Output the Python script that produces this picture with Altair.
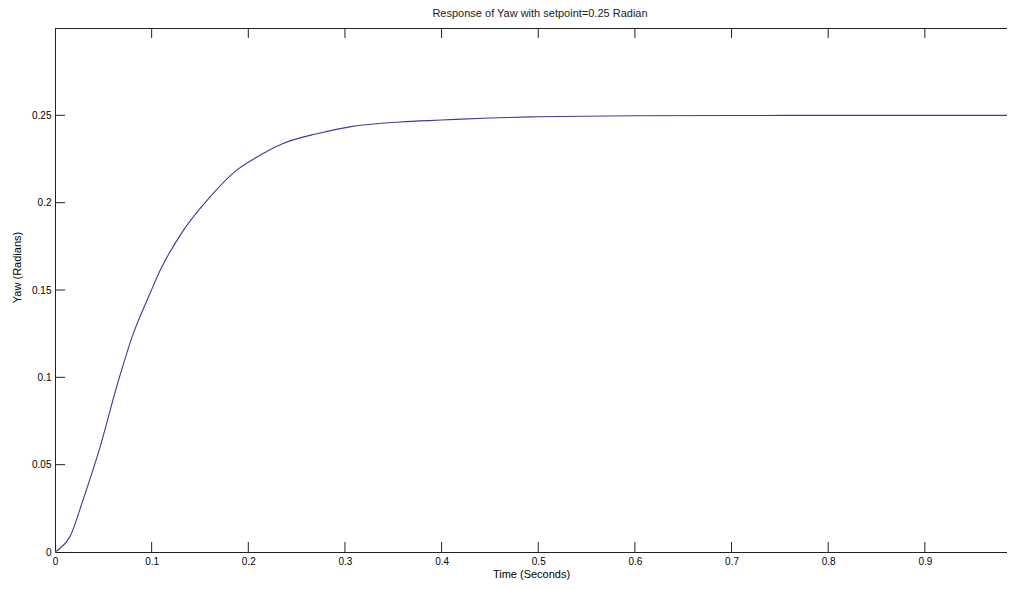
import altair as alt
import pandas as pd

# Data
time_s = [0, 0.005, 0.0155, 0.029, 0.0466, 0.0638, 0.081, 0.0983, 0.1086, 0.1327,
          0.16, 0.188, 0.2086, 0.236, 0.271, 0.305, 0.357, 0.4, 0.45, 0.5,
          0.6, 0.7, 0.8, 0.9, 1.0]
yaw_rad = [0, 0.002, 0.0088, 0.0298, 0.060, 0.0946, 0.125, 0.148, 0.161, 0.184,
           0.203, 0.2186, 0.226, 0.2339, 0.2395, 0.2434, 0.2462, 0.2473, 0.2485, 0.2492,
           0.2498, 0.2499, 0.25, 0.25, 0.25]
x_ticks = [0, 0.1, 0.2, 0.3, 0.4, 0.5, 0.6, 0.7, 0.8, 0.9]
y_ticks = [0, 0.05, 0.1, 0.15, 0.2, 0.25]

W, H = 952, 524
X_MAX = 0.985
FONT = "Liberation Sans"
INK = "#222222"

df = pd.DataFrame({"t": time_s, "y": yaw_rad})
xt = pd.DataFrame({"t": x_ticks[1:]})
yt = pd.DataFrame({"y": y_ticks[1:]})

xscale = alt.Scale(domain=[0, X_MAX], nice=False, zero=False)
yscale = alt.Scale(domain=[0, 0.3], nice=False)

line = alt.Chart(df).mark_line(color="#3b3b9c", strokeWidth=1.1, clip=True,
                               interpolate="monotone").encode(
    x=alt.X("t:Q", scale=xscale,
            axis=alt.Axis(values=x_ticks, format="~g", title="Time (Seconds)", ticks=False,
                          labelPadding=4, grid=False, domainColor=INK, labelFlush=False,
                          titlePadding=2, titleFontWeight="normal")),
    y=alt.Y("y:Q", scale=yscale,
            axis=alt.Axis(values=y_ticks, format="~g", title="Yaw (Radians)", ticks=False,
                          labelPadding=4, grid=False, domainColor=INK, labelFlush=False,
                          titleX=-33, titleY=239, titleFontWeight="normal")),
)

bottom_ticks = alt.Chart(xt).mark_rule(color=INK, strokeWidth=1).encode(
    x=alt.X("t:Q", scale=xscale), y=alt.value(H), y2=alt.value(H - 10))
top_ticks = alt.Chart(xt).mark_rule(color=INK, strokeWidth=1).encode(
    x=alt.X("t:Q", scale=xscale), y=alt.value(0), y2=alt.value(10))
left_ticks = alt.Chart(yt).mark_rule(color=INK, strokeWidth=1).encode(
    y=alt.Y("y:Q", scale=yscale), x=alt.value(0), x2=alt.value(10))
top_border = alt.Chart(xt).mark_rule(color=INK, strokeWidth=1).encode(
    x=alt.value(0), x2=alt.value(W), y=alt.value(0.5))

chart = alt.layer(line, bottom_ticks, top_ticks, left_ticks, top_border).properties(
    width=W, height=H,
    title=alt.Title("Response of Yaw with setpoint=0.25 Radian", fontSize=11,
                    fontWeight="normal", font=FONT, color=INK, anchor="middle",
                    dx=9, offset=9),
    autosize=alt.AutoSizeParams(type="none"),
    padding={"left": 47, "top": 20, "right": 0, "bottom": 30},
).configure_view(stroke=None).configure_axis(
    labelFont=FONT, titleFont=FONT, labelFontSize=11, titleFontSize=11,
    labelColor=INK, titleColor=INK, titleFontWeight="normal", domainWidth=1,
).configure(background="white")

chart.save("out.html", embed_options={"renderer": "svg", "actions": False})
